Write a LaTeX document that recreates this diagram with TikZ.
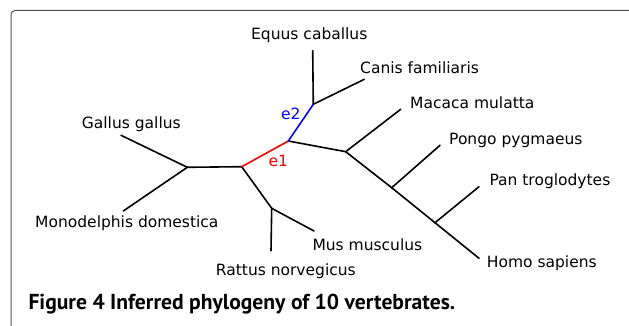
\documentclass[tikz,border=0pt]{standalone}
\usepackage{fontspec}
\setmainfont{DejaVu Sans}
\newfontfamily\capfont{PT Sans}
\usepackage{xcolor}
\usepackage{tikz}
\usetikzlibrary{positioning}

\definecolor{framegray}{RGB}{77,77,77}

\begin{document}
\begin{tikzpicture}[x=1pt, y=-1pt,
  branch/.style={line width=1.6pt, line cap=round},
  taxon/.style={anchor=base west, inner sep=0pt, font=\fontsize{15.5}{18}\selectfont}]
\useasboundingbox (0,0) rectangle (629,326);

% frame
\draw[framegray, line width=1pt, rounded corners=4pt] (640,10.5) -- (11,10.5) -- (11,340);

% inner vertices
\coordinate (A) at (187.3,167.3);
\coordinate (B) at (241.7,166.7);
\coordinate (C) at (288.3,141);
\coordinate (D) at (271.7,208.3);
\coordinate (E) at (313.3,104.3);
\coordinate (F) at (345.7,151.7);
\coordinate (G) at (391.7,187.7);
\coordinate (H) at (435,222.7);

% leaves
\coordinate (gallus) at (121,135.3);
\coordinate (monodelphis) at (123.3,211);
\coordinate (rattus) at (271,250.7);
\coordinate (mus) at (314,231);
\coordinate (equus) at (312.7,50.7);
\coordinate (canis) at (364.3,79.3);
\coordinate (macaca) at (400.7,109.3);
\coordinate (pongo) at (440,145.3);
\coordinate (pan) at (479,186.7);
\coordinate (homo) at (479,258.3);

\foreach \u/\v in {A/gallus, A/monodelphis, A/B, B/D, D/rattus, D/mus,
  E/equus, E/canis, C/F, F/macaca, F/G, G/pongo, G/H, H/pan, H/homo}
  \draw[branch] (\u) -- (\v);

\draw[branch, red] (B) -- (C);
\draw[branch, blue] (C) -- (E);

% labels
\node[taxon] (lequus) at (251,40) {Equus caballus};
\node[taxon] (lcanis) at (360,74) {Canis familiaris};
\node[taxon] (lmacaca) at (410,108.3) {Macaca mulatta};
\node[taxon] (lpongo) at (449,144.3) {Pongo pygmaeus};
\node[taxon] (lpan) at (489.3,185) {Pan troglodytes};
\node[taxon] (lhomo) at (486.7,267.3) {Homo sapiens};
\node[taxon] (lmus) at (312.3,250) {Mus musculus};
\node[taxon] (lrattus) at (215.7,275) {Rattus norvegicus};
\node[taxon] (lmono) at (35,227.3) {Monodelphis domestica};
\node[taxon] (lgallus) at (81.7,128.3) {Gallus gallus};
\node[taxon, blue] (le2) at (281,120) {e2};
\node[taxon, red] (le1) at (268.3,166.7) {e1};

% caption
\node[anchor=base west, inner sep=0pt, font=\capfont\bfseries\fontsize{21.6}{24}\selectfont] (caption) at (28.3,309.5)
  {Figure 4 Inferred phylogeny of 10 vertebrates.};
\end{tikzpicture}
\end{document}
